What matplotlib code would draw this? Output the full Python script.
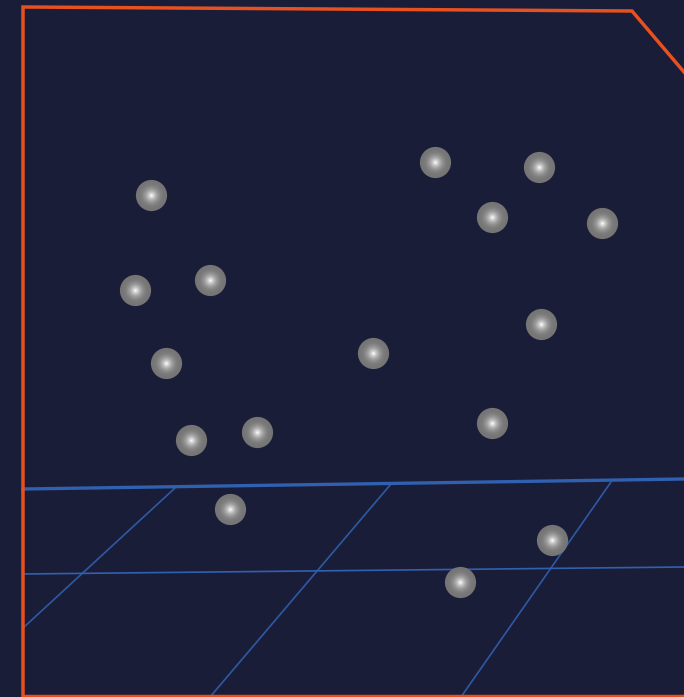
import numpy as np
from matplotlib import pyplot as plt

# ----------
# Scene data (screen coordinates, y grows downward)

point_x = [151, 135, 210, 166, 191, 257, 230, 373, 435, 539, 492, 602, 541, 492, 552, 460]
point_y = [195, 290, 280, 363, 440, 432, 509, 353, 162, 167, 217, 223, 324, 423, 540, 582]

frame_x = [23, 23, 632, 684]
frame_y = [697, 7, 11, 72]
frame_bottom_x = [23, 684]
frame_bottom_y = [696, 696]

floor_edge_x = [23, 684]
floor_edge_y = [489, 479]
floor_mid_x = [23, 684]
floor_mid_y = [574, 567]
floor_diag = [([23, 175], [628, 488]),
              ([210, 391], [697, 484]),
              ([461, 611], [697, 482])]

bg = '#1a1d38'

fig = plt.figure(figsize=(6.84, 6.97), dpi=100, facecolor=bg)
axes = fig.add_axes([0, 0, 1, 1])
axes.set_facecolor(bg)
axes.set_xlim(0, 684)
axes.set_ylim(697, 0)
axes.axis('off')

# floor grid
axes.plot(floor_edge_x, floor_edge_y, color='#3060b0', lw=2.4, zorder=1)
axes.plot(floor_mid_x, floor_mid_y, color='#3060b0', lw=1.2, zorder=1)
for xs, ys in floor_diag:
    axes.plot(xs, ys, color='#3060b0', lw=1.2, alpha=0.9, zorder=1)

# frame
axes.plot(frame_x, frame_y, color='#e8501f', lw=2.5, zorder=2, solid_joinstyle='miter')
axes.plot(frame_bottom_x, frame_bottom_y, color='#e8501f', lw=2.5, zorder=2)

# spheres: stacked discs fake a radial gradient
radius_px = 15
n_layers = 14
for k in range(n_layers):
    t = k / (n_layers - 1)
    r = radius_px * (1 - t) + 0.6
    c = 0.46 + 0.54 * t ** 2.4
    size = (2 * r * 72 / 100) ** 2
    axes.scatter(point_x, point_y, s=size, color=(c, c, c), linewidths=0, zorder=3 + k)

fig.savefig('out.png', dpi=100, facecolor=bg)
